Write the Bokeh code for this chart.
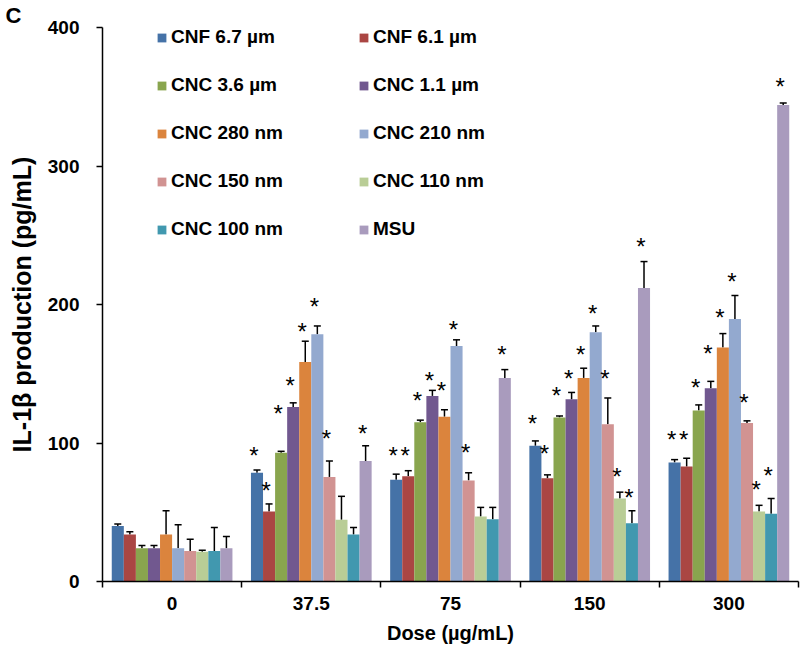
from bokeh.plotting import figure
from bokeh.models import (Range1d, LinearAxis, FixedTicker, ColumnDataSource, Whisker,
                          TeeHead, Legend, LegendItem, Title)
from bokeh.transform import dodge
from bokeh.core.properties import value
from bokeh.embed import file_html
from bokeh.resources import INLINE

# ---------------- data ----------------
doses = ["0", "37.5", "75", "150", "300"]
series = ["CNF 6.7 µm", "CNF 6.1 µm", "CNC 3.6 µm", "CNC 1.1 µm", "CNC 280 nm",
          "CNC 210 nm", "CNC 150 nm", "CNC 110 nm", "CNC 100 nm", "MSU"]
colors = ["#4572A7", "#AA4643", "#89A54E", "#71588F", "#DB843D",
          "#93A9CF", "#D19392", "#B9CD96", "#4198AF", "#A99BBD"]

cnf_67 = [40, 78.5, 73.5, 98, 86]
cnf_61 = [34, 50.5, 76, 74.5, 83]
cnc_36 = [24, 93, 115, 118.5, 123.5]
cnc_11 = [24, 126, 134, 131.5, 139.5]
cnc_280 = [34, 158.5, 119, 147, 169]
cnc_210 = [24, 178.5, 170, 180, 189.5]
cnc_150 = [22, 75.5, 73, 113.5, 114.5]
cnc_110 = [21.5, 44.5, 47, 60, 50.5]
cnc_100 = [22, 34, 45, 42, 49]
msu = [24, 87, 147, 212, 344]

err_cnf_67 = [1.5, 2, 4, 3.5, 2]
err_cnf_61 = [2, 5.5, 4, 2.5, 6]
err_cnc_36 = [2, 1, 1.5, 1, 4]
err_cnc_11 = [2, 3, 4, 5, 5]
err_cnc_280 = [17, 15, 5, 7, 10]
err_cnc_210 = [17, 6, 4.5, 4.5, 17]
err_cnc_150 = [8.5, 11.5, 5.5, 19, 1.5]
err_cnc_110 = [1, 17, 6.5, 4.5, 4.5]
err_cnc_100 = [17, 5, 8.5, 9, 11]
err_msu = [8.5, 11, 6, 19, 1.5]

# height (pg/mL) at which each significance asterisk is drawn; None = no asterisk
star_cnf_67 = [None, 93, 93, 116.5, 105]
star_cnf_61 = [None, 68, 93, 94.5, 105]
star_cnc_36 = [None, 123.5, 133, 136.5, 142]
star_cnc_11 = [None, 143.5, 147, 149, 167]
star_cnc_280 = [None, 182.5, 140, 166, 192.5]
star_cnc_210 = [None, 201, 184, 196, 218.5]
star_cnc_150 = [None, 105.5, 95, 148.5, 131.5]
star_cnc_110 = [None, None, None, 78, 68.5]
star_cnc_100 = [None, None, None, 62.5, 78.5]
star_msu = [None, 109, 166, 244, 359.5]

values = [cnf_67, cnf_61, cnc_36, cnc_11, cnc_280, cnc_210, cnc_150, cnc_110, cnc_100, msu]
errors = [err_cnf_67, err_cnf_61, err_cnc_36, err_cnc_11, err_cnc_280, err_cnc_210,
          err_cnc_150, err_cnc_110, err_cnc_100, err_msu]
stars = [star_cnf_67, star_cnf_61, star_cnc_36, star_cnc_11, star_cnc_280, star_cnc_210,
         star_cnc_150, star_cnc_110, star_cnc_100, star_msu]
y_ticks = [0, 100, 200, 300, 400]

# group slots on a numeric axis: group k occupies [k, k+1]
ng = len(doses)
centers = [k + 0.5 for k in range(ng)]
bounds = [k for k in range(ng + 1)]

# ---------------- figure ----------------
FONT = "Liberation Sans"
p = figure(width=800, height=649, x_range=Range1d(0, ng), y_range=Range1d(0, 400),
           output_backend="svg", toolbar_location=None,
           x_axis_location=None, y_axis_location=None,
           min_border_left=100, min_border_right=2, min_border_top=26, min_border_bottom=68)
p.outline_line_color = None
p.background_fill_color = "white"
p.border_fill_color = "white"

tick_axis = LinearAxis(ticker=FixedTicker(ticks=bounds),
                       major_label_overrides={b: "" for b in bounds},
                       major_tick_out=6, major_tick_in=0, minor_tick_out=0, minor_tick_in=0,
                       major_label_text_font_size="0px", major_label_standoff=0,
                       axis_line_width=1.5, major_tick_line_width=1.5,
                       axis_line_color="black", major_tick_line_color="black")
p.add_layout(tick_axis, "below")

label_axis = LinearAxis(ticker=FixedTicker(ticks=centers),
                        major_label_overrides={c: d for c, d in zip(centers, doses)},
                        axis_line_color=None, major_tick_line_color=None,
                        major_tick_out=0, major_tick_in=0, minor_tick_out=0, minor_tick_in=0,
                        major_label_standoff=9,
                        major_label_text_font=FONT, major_label_text_font_style="bold",
                        major_label_text_font_size="19px", major_label_text_color="black",
                        axis_label="Dose (µg/mL)", axis_label_standoff=9,
                        axis_label_text_font=FONT, axis_label_text_font_style="bold",
                        axis_label_text_font_size="20px", axis_label_text_color="black")
p.add_layout(label_axis, "below")

y_axis = LinearAxis(ticker=FixedTicker(ticks=y_ticks),
                    major_tick_out=6, major_tick_in=0, minor_tick_out=0, minor_tick_in=0,
                    major_label_standoff=17,
                    major_label_text_font=FONT, major_label_text_font_style="bold",
                    major_label_text_font_size="19px", major_label_text_color="black",
                    axis_line_width=1.5, major_tick_line_width=1.5,
                    axis_line_color="black", major_tick_line_color="black")
p.add_layout(y_axis, "left")
p.grid.visible = False

n = len(series)
bw = 0.0867
renderers = []
for i in range(n):
    off = (i - (n - 1) / 2) * bw
    upper = [v + e for v, e in zip(values[i], errors[i])]
    src = ColumnDataSource(dict(xc=centers, val=values[i], upper=upper))
    r = p.vbar(x=dodge("xc", off), top="val", width=bw, source=src,
               fill_color=colors[i], line_color=None)
    renderers.append(r)
    w = Whisker(base=dodge("xc", off), upper="upper", lower="val",
                source=src, dimension="height", line_color="black", line_width=1.5,
                upper_head=TeeHead(size=7, line_color="black", line_width=1.5),
                lower_head=None)
    p.add_layout(w)
    sx = [c for c, s in zip(centers, stars[i]) if s is not None]
    sy = [s for s in stars[i] if s is not None]
    ssrc = ColumnDataSource(dict(xc=sx, y=sy))
    p.text(x=dodge("xc", off), y="y", text=value("*"), source=ssrc,
           text_font=value(FONT), text_font_size="24px", text_align="center",
           text_baseline="alphabetic", x_offset=-3, y_offset=3, text_color="black")


def make_legend(idx, loc):
    return Legend(items=[LegendItem(label=series[k], renderers=[renderers[k]]) for k in idx],
                  location=loc, orientation="vertical", padding=0, margin=0, spacing=26,
                  label_height=21, glyph_height=11, glyph_width=11, label_standoff=4,
                  label_text_font=FONT, label_text_font_style="bold",
                  label_text_font_size="19px", label_text_color="black",
                  border_line_color=None, background_fill_alpha=0)


p.add_layout(make_legend([0, 2, 4, 6, 8], (54, 341)))
p.add_layout(make_legend([1, 3, 5, 7, 9], (256, 341)))

p.add_layout(Title(text="IL-1β production (pg/mL)", align="center", offset=36, standoff=14,
                   vertical_align="top",
                   text_font=FONT, text_font_style="bold", text_font_size="25px",
                   text_color="black"), "left")
p.add_layout(Title(text="C", align="left", offset=-97, standoff=0,
                   text_font=FONT, text_font_style="bold", text_font_size="22px",
                   text_color="black"), "above")

open("out.html", "w").write(file_html(p, INLINE))
